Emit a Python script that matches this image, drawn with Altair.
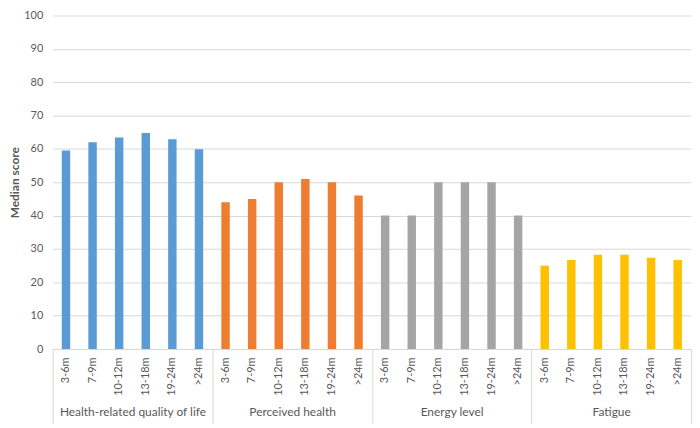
import altair as alt
import pandas as pd

groups = ["Health-related quality of life", "Perceived health", "Energy level", "Fatigue"]
periods = ["3-6m", "7-9m", "10-12m", "13-18m", "19-24m", ">24m"]
hrqol = [59.5, 62.0, 63.4, 64.8, 62.9, 59.9]
perceived = [44, 45, 50, 51, 50, 46]
energy = [40, 40, 50, 50, 50, 40]
fatigue = [25, 26.7, 28.3, 28.3, 27.4, 26.7]
colors = ["#5B9BD5", "#ED7D31", "#A5A5A5", "#FFC000"]

series = [hrqol, perceived, energy, fatigue]
rows = []
keys = []
for gi, (g, vals) in enumerate(zip(groups, series)):
    for p, v in zip(periods, vals):
        k = f"{gi}|{p}"
        keys.append(k)
        rows.append({"key": k, "group": g, "period": p, "score": v})
df = pd.DataFrame(rows)
gdf = pd.DataFrame({"group": groups})

txt = "#595959"

bars = alt.Chart(df).mark_bar(size=8.5).encode(
    x=alt.X(
        "key:N",
        sort=keys,
        scale=alt.Scale(paddingInner=0, paddingOuter=0),
        axis=alt.Axis(
            orient="bottom",
            title=None,
            labelExpr="split(datum.label, '|')[1]",
            labelAngle=-90,
            ticks=False,
            domainColor="#d9d9d9",
            labelPadding=8,
            labelFontSize=11,
            labelColor=txt,
        ),
    ),
    y=alt.Y(
        "score:Q",
        scale=alt.Scale(domain=[0, 100]),
        axis=alt.Axis(
            values=list(range(0, 101, 10)),
            title="Median score",
            titleFontSize=12,
            titleFontWeight="bold",
            titleColor=txt,
            titlePadding=2,
            labelPadding=10,
            labelFontSize=11,
            labelColor=txt,
            ticks=False,
            domain=False,
        ),
    ),
    color=alt.Color("group:N", scale=alt.Scale(domain=groups, range=colors), legend=None),
)

glayer = alt.Chart(gdf).mark_point(opacity=0).encode(
    x=alt.X(
        "group:N",
        sort=groups,
        scale=alt.Scale(paddingInner=0, paddingOuter=0),
        axis=alt.Axis(
            orient="bottom",
            title=None,
            tickBand="extent",
            tickSize=75,
            tickColor="#d9d9d9",
            domain=False,
            grid=False,
            labelAngle=0,
            labelPadding=-17,
            labelFontSize=12,
            labelColor=txt,
        ),
    ),
)

chart = (
    alt.layer(bars, glayer)
    .resolve_scale(x="independent")
    .properties(width=643, height=336, padding={"left": 0, "top": 0, "right": 0, "bottom": 0})
    .configure_view(stroke=None)
    .configure_axis(labelFont="Lato", titleFont="Lato", gridColor="#d9d9d9")
)

chart.save("out.html", embed_options={"renderer": "svg", "actions": False})
